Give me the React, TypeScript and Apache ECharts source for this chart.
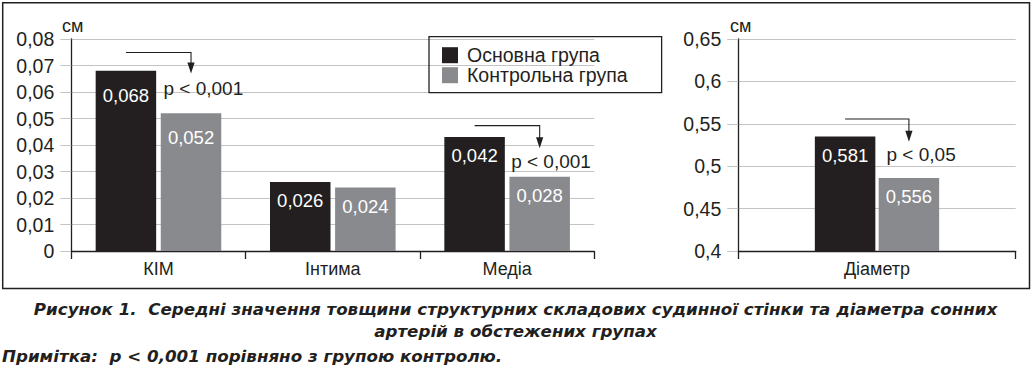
import React, { useEffect, useRef } from 'react';
import * as echarts from 'echarts';

const categoriesLeft = ['КІМ', 'Інтима', 'Медіа'];
const mainLeft = [0.068, 0.026, 0.043];
const controlLeft = [0.052, 0.024, 0.028];
const mainLeftLabels = ['0,068', '0,026', '0,042'];
const controlLeftLabels = ['0,052', '0,024', '0,028'];

const categoriesRight = ['Діаметр'];
const mainRight = [0.535];
const controlRight = [0.486];
const mainRightLabels = ['0,581'];
const controlRightLabels = ['0,556'];

const seriesNames = ['Основна група', 'Контрольна група'];

// significance annotations: axis index, category index, line level, arrow tip, text level, text
const annotAxis = [0, 0, 1];
const annotCat = [0, 2, 0];
const annotLine = [0.0749, 0.0473, 0.5557];
const annotTip = [0.067, 0.0388, 0.5288];
const annotTextY = [0.0615, 0.0338, 0.514];
const annotText = ['p < 0,001', 'p < 0,001', 'p < 0,05'];
const annotTextDx = [5, 4, 9.5];

const FONT = '"Liberation Sans", Arial, Helvetica, sans-serif';
const CAP_FONT = '"DejaVu Sans", "Liberation Sans", sans-serif';
const INK = '#231f20';
const GRAY = '#898a8d';
const BAR_W = 60.5;

const fmt = (v: number) => String(parseFloat(v.toFixed(4))).replace('.', ',');

export default function App() {
  const ref = useRef<HTMLDivElement>(null);
  useEffect(() => {
    if (!ref.current) return;
    const chart = echarts.init(ref.current, undefined, { renderer: 'svg' });

    const yAxisCommon = {
      type: 'value',
      axisLine: { show: true, lineStyle: { color: INK, width: 1.3 } },
      axisTick: { show: true, length: 11, lineStyle: { color: '#c4c4c4', width: 1 } },
      splitLine: { show: true, lineStyle: { color: '#c4c4c4', width: 1 } },
      axisLabel: { fontSize: 19.5, color: INK, fontFamily: FONT, margin: 17, formatter: fmt },
    };
    const xAxisCommon = {
      type: 'category',
      axisLine: { show: true, lineStyle: { color: INK, width: 1.3 } },
      axisTick: { show: true, length: 8, lineStyle: { color: INK, width: 1.3 } },
      axisLabel: { fontSize: 18, color: INK, fontFamily: FONT, margin: 9 },
    };
    const valueLabel = (labels: string[]) => ({
      show: true,
      position: 'insideTop',
      distance: 9.3,
      color: '#ffffff',
      fontSize: 18.5,
      fontFamily: FONT,
      formatter: (p: any) => labels[p.dataIndex],
    });
    const mkData = (vals: number[], bigFirst: boolean) =>
      vals.map((v, i) => (bigFirst && i === 0 ? { value: v, label: { distance: 14.8 } } : { value: v }));

    chart.setOption({
      animation: false,
      backgroundColor: '#ffffff',
      legend: {
        orient: 'vertical',
        left: 429,
        top: 36.7,
        itemWidth: 16,
        itemHeight: 16,
        itemGap: 0,
        padding: [8.5, 34, 7.5, 13],
        borderColor: INK,
        borderWidth: 1.3,
        icon: 'rect',
        data: seriesNames,
        textStyle: { fontSize: 19.5, color: INK, fontFamily: FONT, padding: [0, 0, 0, 4] },
      },
      grid: [
        { left: 71.3, top: 39, width: 523, height: 212 },
        { left: 738.3, top: 39, width: 277.4, height: 212 },
      ],
      xAxis: [
        { ...xAxisCommon, gridIndex: 0, data: categoriesLeft },
        { ...xAxisCommon, gridIndex: 1, data: categoriesRight },
      ],
      yAxis: [
        { ...yAxisCommon, gridIndex: 0, min: 0, max: 0.08, interval: 0.01 },
        { ...yAxisCommon, gridIndex: 1, min: 0.4, max: 0.65, interval: 0.05 },
      ],
      series: [
        {
          name: seriesNames[0], type: 'bar', xAxisIndex: 0, yAxisIndex: 0,
          barWidth: BAR_W, barGap: '7.6%', itemStyle: { color: INK },
          label: valueLabel(mainLeftLabels), data: mkData(mainLeft, true),
        },
        {
          name: seriesNames[1], type: 'bar', xAxisIndex: 0, yAxisIndex: 0,
          barWidth: BAR_W, barGap: '7.6%', itemStyle: { color: GRAY },
          label: valueLabel(controlLeftLabels), data: mkData(controlLeft, true),
        },
        {
          name: seriesNames[0], type: 'bar', xAxisIndex: 1, yAxisIndex: 1,
          barWidth: BAR_W, barGap: '5.5%', itemStyle: { color: INK },
          label: valueLabel(mainRightLabels), data: mkData(mainRight, false),
        },
        {
          name: seriesNames[1], type: 'bar', xAxisIndex: 1, yAxisIndex: 1,
          barWidth: BAR_W, barGap: '5.5%', itemStyle: { color: GRAY },
          label: valueLabel(controlRightLabels), data: mkData(controlRight, false),
        },
      ],
    });

    const capStyle = {
      fontSize: 16.7, fontWeight: 'bold', fontStyle: 'italic', fill: INK, fontFamily: CAP_FONT,
      verticalAlign: 'middle',
    };

    const gapPct = [0.076, 0.055];
    const elements: any[] = [
      {
        type: 'rect', shape: { x: 2.7, y: 2.7, width: 1026.8, height: 285.8 },
        style: { fill: 'none', stroke: INK, lineWidth: 1.5 }, silent: true,
      },
      {
        type: 'text', x: 62, y: 26,
        style: { text: 'см', fontSize: 18, fill: INK, fontFamily: FONT, verticalAlign: 'middle', textAlign: 'left' },
      },
      {
        type: 'text', x: 730, y: 26,
        style: { text: 'см', fontSize: 18, fill: INK, fontFamily: FONT, verticalAlign: 'middle', textAlign: 'left' },
      },
      {
        type: 'text', x: 515.5, y: 309,
        style: {
          ...capStyle, textAlign: 'center',
          text: 'Рисунок 1.  Середні значення товщини структурних складових судинної стінки та діаметра сонних',
        },
      },
      {
        type: 'text', x: 515.5, y: 331,
        style: { ...capStyle, textAlign: 'center', text: 'артерій в обстежених групах' },
      },
      {
        type: 'text', x: 2, y: 356,
        style: { ...capStyle, textAlign: 'left', text: 'Примітка:  p < 0,001 порівняно з групою контролю.' },
      },
    ];

    annotAxis.forEach((ax, i) => {
      const finder = { xAxisIndex: ax, yAxisIndex: ax };
      const [cx, ly] = chart.convertToPixel(finder, [annotCat[i], annotLine[i]]) as number[];
      const [, ty] = chart.convertToPixel(finder, [annotCat[i], annotTip[i]]) as number[];
      const [, txy] = chart.convertToPixel(finder, [annotCat[i], annotTextY[i]]) as number[];
      const half = (BAR_W + BAR_W * gapPct[ax]) / 2;
      const x1 = cx - half;
      const x2 = cx + half;
      const head = 11;
      elements.push({
        type: 'polyline',
        shape: { points: [[x1, ly], [x2, ly], [x2, ty - head + 1]] },
        style: { stroke: INK, lineWidth: 1.1, fill: 'none' },
      });
      elements.push({
        type: 'polygon',
        shape: { points: [[x2 - 3.6, ty - head], [x2 + 3.6, ty - head], [x2, ty]] },
        style: { fill: INK },
      });
      elements.push({
        type: 'text', x: cx + annotTextDx[i], y: txy,
        style: { text: annotText[i], fontSize: 19, fill: INK, fontFamily: FONT, textAlign: 'left', verticalAlign: 'middle' },
      });
    });

    chart.setOption({ graphic: { elements } });

    return () => chart.dispose();
  }, []);

  return <div ref={ref} style={{ position: 'absolute', left: 0, top: 0, width: 1034, height: 370 }} />;
}
